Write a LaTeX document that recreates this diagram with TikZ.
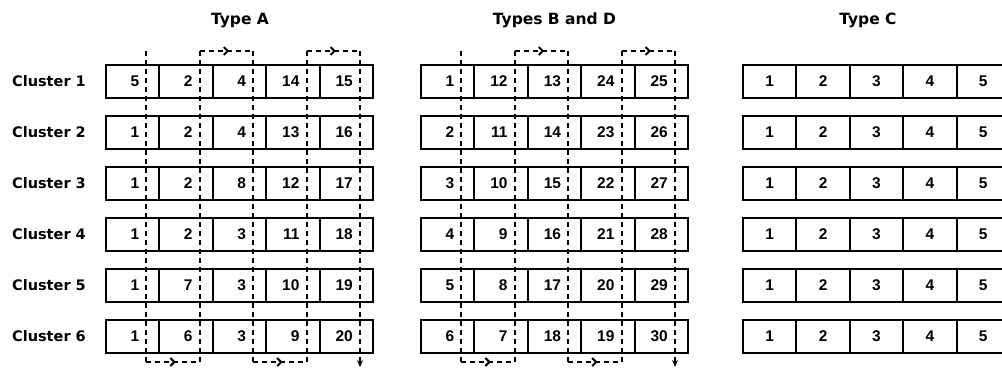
\documentclass[tikz,border=0pt]{standalone}
\usepackage{fontspec}
\setmainfont{DejaVu Sans}
\newfontfamily\numfont{Liberation Sans}
\usetikzlibrary{positioning,arrows.meta,decorations.markings}

\begin{document}
\begin{tikzpicture}[
    x=1pt, y=-1pt,
    >=Stealth,
    every node/.style={align=center},
    cell/.style={draw, line width=2pt, minimum width=53.4pt, minimum height=33pt, inner sep=0pt, outer sep=0pt},
    lbl/.style={font=\fontsize{14.5}{17}\selectfont\bfseries, anchor=east, inner sep=0pt},
    title/.style={font=\fontsize{15.5}{18}\selectfont\bfseries, anchor=base, inner sep=0pt},
    num/.style={font=\numfont\fontsize{15.5}{18}\selectfont\bfseries, inner sep=0pt},
    route/.style={line width=2pt, dash pattern=on 5pt off 4pt},
    midarrow/.style={postaction={decorate, decoration={markings,
        mark=at position 0.55 with {\arrow[line width=2pt]{Straight Barb[length=4pt,width=8pt]}}}}}
]
\useasboundingbox (0,0) rectangle (1002,368);
\clip (0,0) rectangle (1002,368);

% Titles
\node[title] (tA) at (240,24.5) {Type A};
\node[title] (tB) at (554.5,24.5) {Types B and D};
\node[title] (tC) at (868,24.5) {Type C};

% Cluster labels
\foreach \r in {1,...,6}
    \node[lbl] (cl\r) at (86, {81+51*(\r-1)}) {Cluster \r};

% Type A
\foreach \row [count=\r] in {{5,2,4,14,15},{1,2,4,13,16},{1,2,8,12,17},{1,2,3,11,18},{1,7,3,10,19},{1,6,3,9,20}}
    \foreach \v [count=\c] in \row {
        \node[cell] (A-\r-\c) at ({106+53.4*(\c-0.5)}, {81+51*(\r-1)}) {};
        \node[num, anchor=east] (nA-\r-\c) at ([xshift=-20pt]A-\r-\c.east) {\v};
    }

% Types B and D
\foreach \row [count=\r] in {{1,12,13,24,25},{2,11,14,23,26},{3,10,15,22,27},{4,9,16,21,28},{5,8,17,20,29},{6,7,18,19,30}}
    \foreach \v [count=\c] in \row {
        \node[cell] (B-\r-\c) at ({421+53.4*(\c-0.5)}, {81+51*(\r-1)}) {};
        \node[num, anchor=east] (nB-\r-\c) at ([xshift=-20pt]B-\r-\c.east) {\v};
    }

% Type C
\foreach \r in {1,...,6}
    \foreach \c in {1,...,5} {
        \node[cell] (C-\r-\c) at ({743+53.4*(\c-0.5)}, {81+51*(\r-1)}) {};
        \node[num] (nC-\r-\c) at (C-\r-\c) {\c};
    }

% Dashed routes
\foreach \g/\gx in {A/106, B/421} {
    \foreach \c in {1,...,5} {
        \coordinate (\g-t\c) at ({\gx+53.4*\c-13}, 51);
        \coordinate (\g-b\c) at ({\gx+53.4*\c-13}, 362);
    }
    \coordinate (\g-e) at ({\gx+53.4*5-13}, 367);
    \foreach \p/\q in {t1/b1, b2/t2, t3/b3, b4/t4}
        \draw[route] (\g-\p) -- (\g-\q);
    \draw[route, -{Stealth[length=7pt,width=6pt]}] (\g-t5) -- (\g-e);
    \foreach \p/\q in {b1/b2, t2/t3, b3/b4, t4/t5}
        \draw[route, midarrow] (\g-\p) -- (\g-\q);
}
\end{tikzpicture}
\end{document}
